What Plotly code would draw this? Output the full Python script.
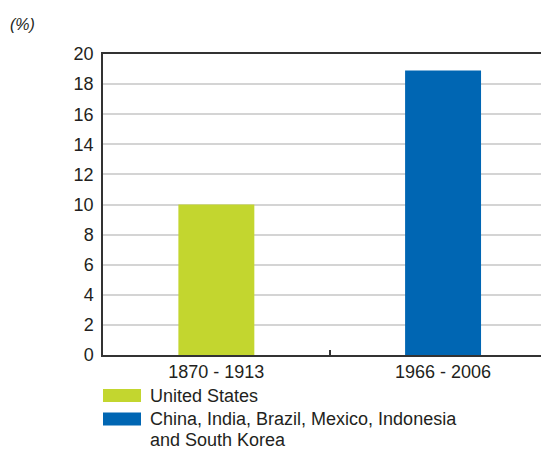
import plotly.graph_objects as go

periods = ["1870 - 1913", "1966 - 2006"]
series_names = ["United States", "China, India, Brazil, Mexico, Indonesia<br>and South Korea"]
values = [10.0, 18.9]
colors = ["#c3d62f", "#0066b3"]
y_ticks = list(range(0, 21, 2))

FONT = "Liberation Sans"
TXT = "#231f20"
PLOT_W, PLOT_H, Y0 = 438, 301, 355

def py(p):
    return (Y0 - p) / PLOT_H

fig = go.Figure()
for i in range(len(periods)):
    fig.add_trace(go.Bar(
        x=[periods[i]], y=[values[i]], name=series_names[i].replace("<br>", " "),
        marker=dict(color=colors[i], line=dict(width=0)),
        width=0.335, showlegend=False,
    ))

# manual legend
swatch_centers = [395.5, 419]
line_centers = [[396], [418.5, 439.5]]
for i, name in enumerate(series_names):
    c = swatch_centers[i]
    fig.add_shape(type="rect", xref="paper", yref="paper",
                  x0=0.0, x1=38 / PLOT_W, y0=py(c + 6.5), y1=py(c - 6.5),
                  fillcolor=colors[i], line=dict(width=0))
    for line, lc in zip(name.split("<br>"), line_centers[i]):
        fig.add_annotation(xref="paper", yref="paper", x=45 / PLOT_W, y=py(lc),
                           text=line, showarrow=False, xanchor="left", yanchor="middle",
                           align="left", font=dict(family=FONT, size=18, color=TXT))

fig.add_annotation(xref="paper", yref="paper", x=-95 / PLOT_W, y=py(25),
                   text="<i>(%)</i>", showarrow=False, xanchor="left", yanchor="middle",
                   font=dict(family=FONT, size=16, color=TXT))

fig.update_layout(
    width=542, height=449,
    margin=dict(l=103, r=1, t=54, b=94),
    paper_bgcolor="white", plot_bgcolor="white",
    font=dict(family=FONT, size=18, color=TXT),
)
fig.update_xaxes(
    type="category", range=[-0.5, 1.432],
    showline=True, linecolor="#333333", linewidth=1.5, mirror=True,
    ticks="inside", tickson="boundaries", ticklen=5, tickcolor="#333333", tickwidth=1.5,
    showgrid=False, tickfont=dict(family=FONT, size=18, color=TXT),
)
fig.update_yaxes(
    range=[0, 20], tickvals=y_ticks,
    showline=True, linecolor="#333333", linewidth=1.5,
    showgrid=True, gridcolor="#d4d4d4", gridwidth=1.5,
    zeroline=False, ticks="", ticklabelstandoff=4,
    tickfont=dict(family=FONT, size=18, color=TXT),
)

fig.write_html("out.html")
